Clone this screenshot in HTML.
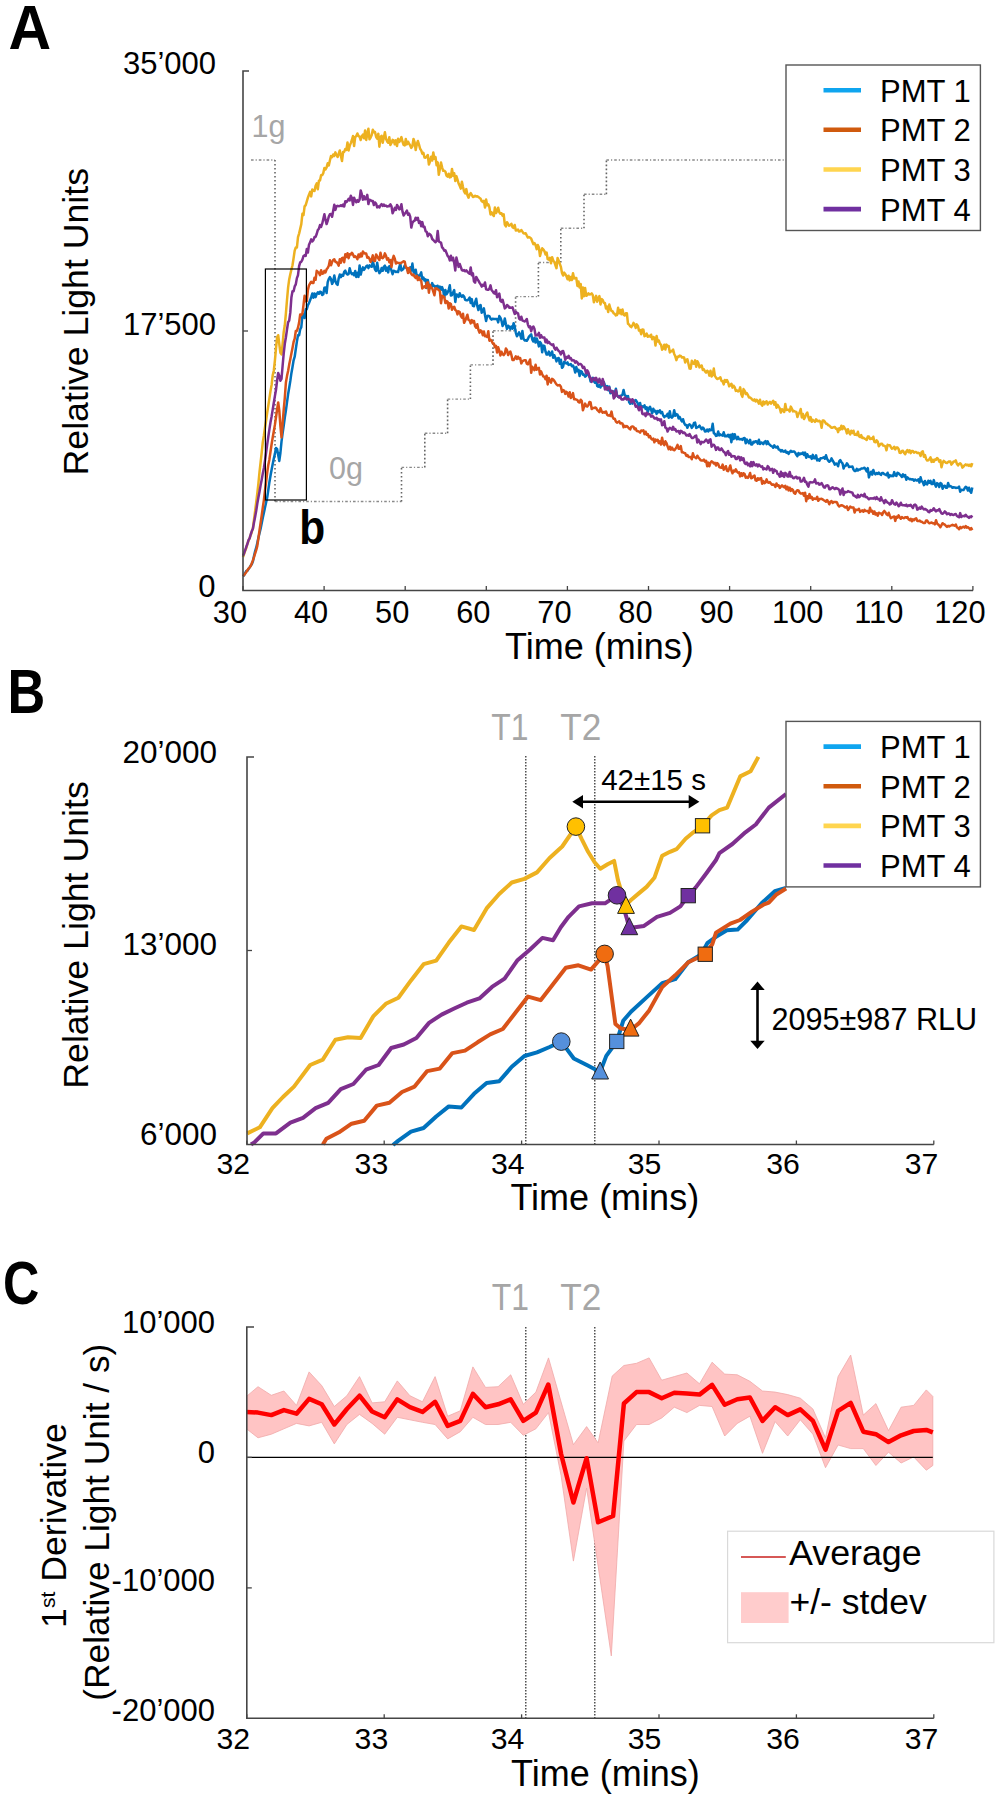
<!DOCTYPE html>
<html><head><meta charset="utf-8"><style>
html,body{margin:0;padding:0;background:#fff;}
svg{display:block;}
</style></head><body>
<svg width="1000" height="1800" viewBox="0 0 1000 1800">
<rect width="1000" height="1800" fill="#fff"/>
<line x1="251.0" y1="160.0" x2="275.0" y2="160.0" stroke="#8a8a8a" stroke-width="1.4" stroke-dasharray="2.6,2,1.2,2"/>
<line x1="275.0" y1="160.0" x2="275.0" y2="501.5" stroke="#666" stroke-width="1.6" stroke-dasharray="1.6,2.4"/>
<line x1="275.0" y1="501.5" x2="401.5" y2="501.5" stroke="#8a8a8a" stroke-width="1.4" stroke-dasharray="2.6,2,1.2,2"/>
<line x1="401.5" y1="501.5" x2="401.5" y2="467.4" stroke="#666" stroke-width="1.6" stroke-dasharray="1.6,2.4"/>
<line x1="401.5" y1="467.4" x2="424.8" y2="467.4" stroke="#8a8a8a" stroke-width="1.4" stroke-dasharray="2.6,2,1.2,2"/>
<line x1="424.8" y1="467.4" x2="424.8" y2="433.2" stroke="#666" stroke-width="1.6" stroke-dasharray="1.6,2.4"/>
<line x1="424.8" y1="433.2" x2="447.6" y2="433.2" stroke="#8a8a8a" stroke-width="1.4" stroke-dasharray="2.6,2,1.2,2"/>
<line x1="447.6" y1="433.2" x2="447.6" y2="399.1" stroke="#666" stroke-width="1.6" stroke-dasharray="1.6,2.4"/>
<line x1="447.6" y1="399.1" x2="470.4" y2="399.1" stroke="#8a8a8a" stroke-width="1.4" stroke-dasharray="2.6,2,1.2,2"/>
<line x1="470.4" y1="399.1" x2="470.4" y2="364.9" stroke="#666" stroke-width="1.6" stroke-dasharray="1.6,2.4"/>
<line x1="470.4" y1="364.9" x2="493.0" y2="364.9" stroke="#8a8a8a" stroke-width="1.4" stroke-dasharray="2.6,2,1.2,2"/>
<line x1="493.0" y1="364.9" x2="493.0" y2="330.8" stroke="#666" stroke-width="1.6" stroke-dasharray="1.6,2.4"/>
<line x1="493.0" y1="330.8" x2="515.6" y2="330.8" stroke="#8a8a8a" stroke-width="1.4" stroke-dasharray="2.6,2,1.2,2"/>
<line x1="515.6" y1="330.8" x2="515.6" y2="296.6" stroke="#666" stroke-width="1.6" stroke-dasharray="1.6,2.4"/>
<line x1="515.6" y1="296.6" x2="538.4" y2="296.6" stroke="#8a8a8a" stroke-width="1.4" stroke-dasharray="2.6,2,1.2,2"/>
<line x1="538.4" y1="296.6" x2="538.4" y2="262.5" stroke="#666" stroke-width="1.6" stroke-dasharray="1.6,2.4"/>
<line x1="538.4" y1="262.5" x2="560.8" y2="262.5" stroke="#8a8a8a" stroke-width="1.4" stroke-dasharray="2.6,2,1.2,2"/>
<line x1="560.8" y1="262.5" x2="560.8" y2="228.3" stroke="#666" stroke-width="1.6" stroke-dasharray="1.6,2.4"/>
<line x1="560.8" y1="228.3" x2="584.0" y2="228.3" stroke="#8a8a8a" stroke-width="1.4" stroke-dasharray="2.6,2,1.2,2"/>
<line x1="584.0" y1="228.3" x2="584.0" y2="194.2" stroke="#666" stroke-width="1.6" stroke-dasharray="1.6,2.4"/>
<line x1="584.0" y1="194.2" x2="606.4" y2="194.2" stroke="#8a8a8a" stroke-width="1.4" stroke-dasharray="2.6,2,1.2,2"/>
<line x1="606.4" y1="194.2" x2="606.4" y2="160.0" stroke="#666" stroke-width="1.6" stroke-dasharray="1.6,2.4"/>
<line x1="606.4" y1="160.0" x2="786.0" y2="160.0" stroke="#8a8a8a" stroke-width="1.4" stroke-dasharray="2.6,2,1.2,2"/>
<polyline points="243.0,576.2 244.1,575.3 245.2,572.8 246.3,571.0 247.4,570.7 248.5,569.0 249.6,567.4 250.7,565.6 251.8,564.2 252.9,561.4 254.0,556.0 255.1,551.4 256.2,547.7 257.3,543.0 258.4,537.8 259.5,533.2 260.6,528.7 261.7,523.3 262.8,517.7 263.9,512.7 265.0,507.6 266.1,502.5 267.2,497.6 268.3,490.0 269.4,482.2 270.5,475.8 271.6,469.8 272.7,464.1 273.8,458.6 274.9,453.9 276.0,448.1 277.1,448.9 278.2,455.1 279.3,460.9 280.4,453.0 281.5,441.7 282.6,433.4 283.7,425.7 284.8,417.6 285.9,410.5 287.0,402.4 288.1,394.3 289.2,387.7 290.3,381.0 291.4,373.2 292.5,367.0 293.6,360.3 294.7,356.7 295.8,349.0 296.9,341.6 298.0,335.3 299.1,335.2 300.2,329.3 301.3,327.2 302.4,316.0 303.5,314.4 304.6,318.0 305.7,309.3 306.8,309.2 307.9,305.2 309.0,303.1 310.1,300.3 311.2,297.2 312.3,293.5 313.4,297.7 314.5,293.4 315.6,297.1 316.7,294.1 317.8,292.4 318.9,293.8 320.0,291.7 321.1,292.2 322.2,295.0 323.3,294.2 324.4,287.7 325.5,287.5 326.6,293.0 327.7,282.2 328.8,279.0 329.9,277.0 331.0,279.1 332.1,283.9 333.2,281.6 334.3,275.6 335.4,281.0 336.5,283.9 337.6,284.9 338.7,278.3 339.8,274.5 340.9,277.2 342.0,274.9 343.1,275.8 344.2,271.9 345.3,270.7 346.4,273.6 347.5,274.5 348.6,274.1 349.7,268.3 350.8,272.3 351.9,274.1 353.0,273.4 354.1,275.3 355.2,271.0 356.3,277.0 357.4,272.9 358.5,276.9 359.6,265.4 360.7,274.6 361.8,270.2 362.9,267.4 364.0,269.9 365.1,268.1 366.2,266.3 367.3,265.6 368.4,268.1 369.5,265.4 370.6,266.4 371.7,266.8 372.8,261.2 373.9,265.4 375.0,269.5 376.1,271.0 377.2,262.7 378.3,269.8 379.4,273.1 380.5,271.8 381.6,268.0 382.7,270.8 383.8,266.8 384.9,265.7 386.0,270.7 387.1,267.6 388.2,272.4 389.3,266.2 390.4,266.3 391.5,270.7 392.6,274.2 393.7,270.8 394.8,271.1 395.9,272.0 397.0,271.6 398.1,272.1 399.2,267.3 400.3,263.8 401.4,270.5 402.5,269.8 403.6,268.4 404.7,265.5 405.8,267.2 406.9,268.6 408.0,271.1 409.1,269.1 410.2,267.4 411.3,270.6 412.4,263.6 413.5,271.9 414.6,273.3 415.7,269.7 416.8,276.2 417.9,275.4 419.0,276.7 420.1,274.8 421.2,272.4 422.3,279.1 423.4,277.5 424.5,280.5 425.6,279.4 426.7,287.9 427.8,279.9 428.9,285.5 430.0,285.9 431.1,286.8 432.2,283.1 433.3,286.0 434.4,285.8 435.5,287.5 436.6,286.1 437.7,285.8 438.8,289.0 439.9,286.6 441.0,289.7 442.1,287.1 443.2,290.3 444.3,297.4 445.4,290.0 446.5,294.2 447.6,292.5 448.7,289.9 449.8,285.3 450.9,295.6 452.0,295.1 453.1,292.5 454.2,290.1 455.3,302.0 456.4,294.4 457.5,294.9 458.6,297.0 459.7,293.3 460.8,295.8 461.9,296.9 463.0,295.3 464.1,296.5 465.2,299.9 466.3,300.2 467.4,300.3 468.5,299.3 469.6,297.6 470.7,303.1 471.8,299.1 472.9,305.9 474.0,306.2 475.1,302.2 476.2,298.8 477.3,305.9 478.4,310.1 479.5,306.0 480.6,305.0 481.7,312.7 482.8,311.5 483.9,308.4 485.0,315.3 486.1,321.0 487.2,316.0 488.3,315.8 489.4,316.2 490.5,318.6 491.6,319.7 492.7,318.7 493.8,319.1 494.9,319.1 496.0,319.1 497.1,319.1 498.2,322.4 499.3,316.1 500.4,317.8 501.5,320.7 502.6,326.0 503.7,324.0 504.8,318.4 505.9,324.2 507.0,328.9 508.1,325.7 509.2,326.7 510.3,328.9 511.4,326.5 512.5,328.7 513.6,323.2 514.7,326.8 515.8,332.6 516.9,336.2 518.0,334.5 519.1,332.4 520.2,335.0 521.3,338.6 522.4,331.0 523.5,338.8 524.6,340.4 525.7,340.3 526.8,340.8 527.9,339.0 529.0,336.6 530.1,335.5 531.2,334.3 532.3,339.6 533.4,341.5 534.5,337.8 535.6,342.6 536.7,338.4 537.8,341.5 538.9,346.4 540.0,342.0 541.1,343.4 542.2,352.3 543.3,345.6 544.4,345.9 545.5,351.5 546.6,354.6 547.7,354.4 548.8,351.6 549.9,355.5 551.0,354.4 552.1,351.5 553.2,357.7 554.3,355.2 555.4,357.9 556.5,361.4 557.6,358.4 558.7,358.0 559.8,363.8 560.9,359.7 562.0,367.8 563.1,366.6 564.2,361.7 565.3,362.7 566.4,363.5 567.5,362.4 568.6,364.9 569.7,364.6 570.8,364.1 571.9,366.3 573.0,365.5 574.1,368.0 575.2,372.5 576.3,367.0 577.4,371.1 578.5,369.8 579.6,376.1 580.7,371.0 581.8,371.8 582.9,374.8 584.0,374.6 585.1,376.6 586.2,376.0 587.3,373.3 588.4,373.8 589.5,376.4 590.6,381.6 591.7,379.5 592.8,377.9 593.9,381.2 595.0,382.7 596.1,379.4 597.2,386.0 598.3,386.7 599.4,384.9 600.5,387.5 601.6,382.9 602.7,385.5 603.8,382.3 604.9,385.3 606.0,387.7 607.1,386.0 608.2,390.3 609.3,386.6 610.4,393.2 611.5,390.9 612.6,393.3 613.7,391.6 614.8,393.8 615.9,388.7 617.0,395.3 618.1,396.8 619.2,396.6 620.3,395.8 621.4,395.6 622.5,394.6 623.6,389.9 624.7,395.0 625.8,395.7 626.9,397.4 628.0,396.0 629.1,402.0 630.2,403.7 631.3,400.9 632.4,403.6 633.5,400.8 634.6,400.9 635.7,400.0 636.8,401.7 637.9,403.6 639.0,406.4 640.1,403.0 641.2,407.9 642.3,406.2 643.4,407.2 644.5,405.4 645.6,408.9 646.7,407.2 647.8,412.2 648.9,408.3 650.0,406.8 651.1,409.6 652.2,413.3 653.3,408.7 654.4,411.4 655.5,410.8 656.6,413.9 657.7,411.0 658.8,412.3 659.9,410.3 661.0,413.1 662.1,412.0 663.2,415.5 664.3,417.1 665.4,416.1 666.5,415.9 667.6,413.7 668.7,417.8 669.8,411.2 670.9,416.9 672.0,417.6 673.1,416.2 674.2,410.2 675.3,415.8 676.4,414.1 677.5,414.6 678.6,418.4 679.7,416.9 680.8,419.4 681.9,421.5 683.0,419.2 684.1,422.9 685.2,425.0 686.3,424.9 687.4,427.8 688.5,425.0 689.6,424.3 690.7,425.3 691.8,427.9 692.9,426.2 694.0,422.9 695.1,422.6 696.2,428.0 697.3,427.4 698.4,426.7 699.5,425.7 700.6,427.5 701.7,429.2 702.8,427.5 703.9,428.7 705.0,431.6 706.1,431.3 707.2,429.5 708.3,431.4 709.4,429.4 710.5,430.2 711.6,430.0 712.7,423.8 713.8,433.2 714.9,433.9 716.0,435.9 717.1,435.5 718.2,431.5 719.3,435.4 720.4,434.4 721.5,435.2 722.6,435.6 723.7,432.3 724.8,436.2 725.9,436.1 727.0,436.3 728.1,434.7 729.2,437.1 730.3,434.8 731.4,442.2 732.5,434.1 733.6,439.1 734.7,434.2 735.8,437.6 736.9,439.2 738.0,436.9 739.1,439.3 740.2,439.3 741.3,438.9 742.4,439.9 743.5,438.2 744.6,438.1 745.7,443.3 746.8,439.5 747.9,441.6 749.0,443.2 750.1,439.9 751.2,444.5 752.3,444.4 753.4,441.7 754.5,442.4 755.6,441.2 756.7,441.5 757.8,443.7 758.9,439.8 760.0,444.0 761.1,442.5 762.2,443.0 763.3,444.1 764.4,442.0 765.5,441.1 766.6,444.1 767.7,441.4 768.8,444.0 769.9,444.8 771.0,445.9 772.1,446.3 773.2,447.8 774.3,445.3 775.4,447.2 776.5,447.5 777.6,446.5 778.7,449.6 779.8,449.7 780.9,451.4 782.0,450.1 783.1,451.6 784.2,451.8 785.3,450.5 786.4,452.7 787.5,452.0 788.6,453.9 789.7,452.1 790.8,450.8 791.9,451.9 793.0,451.5 794.1,451.5 795.2,452.6 796.3,454.8 797.4,456.2 798.5,453.0 799.6,454.5 800.7,453.5 801.8,453.9 802.9,452.5 804.0,455.0 805.1,452.6 806.2,457.8 807.3,454.2 808.4,456.5 809.5,457.0 810.6,456.2 811.7,458.9 812.8,454.9 813.9,458.2 815.0,458.2 816.1,455.3 817.2,460.4 818.3,459.3 819.4,460.7 820.5,458.3 821.6,458.2 822.7,457.9 823.8,457.2 824.9,458.8 826.0,455.3 827.1,458.8 828.2,460.7 829.3,461.8 830.4,460.9 831.5,458.4 832.6,460.5 833.7,462.2 834.8,464.7 835.9,463.5 837.0,464.0 838.1,466.3 839.2,461.3 840.3,460.1 841.4,462.2 842.5,463.3 843.6,468.6 844.7,465.8 845.8,465.7 846.9,463.3 848.0,465.0 849.1,467.1 850.2,466.8 851.3,466.7 852.4,466.5 853.5,469.5 854.6,470.9 855.7,471.0 856.8,468.9 857.9,470.5 859.0,469.5 860.1,469.5 861.2,468.6 862.3,468.4 863.4,468.3 864.5,467.7 865.6,469.3 866.7,471.4 867.8,468.1 868.9,477.4 870.0,473.8 871.1,471.7 872.2,474.6 873.3,470.0 874.4,473.2 875.5,474.4 876.6,473.0 877.7,473.9 878.8,472.6 879.9,474.0 881.0,474.9 882.1,472.9 883.2,473.0 884.3,474.3 885.4,474.4 886.5,475.2 887.6,472.7 888.7,477.6 889.8,475.1 890.9,476.2 892.0,475.6 893.1,476.2 894.2,472.1 895.3,475.4 896.4,475.9 897.5,472.7 898.6,473.4 899.7,474.6 900.8,475.4 901.9,476.9 903.0,474.3 904.1,476.5 905.2,475.1 906.3,479.8 907.4,477.3 908.5,478.4 909.6,479.3 910.7,479.1 911.8,479.6 912.9,479.3 914.0,480.8 915.1,479.5 916.2,480.4 917.3,480.6 918.4,479.2 919.5,482.5 920.6,477.2 921.7,481.3 922.8,482.1 923.9,485.1 925.0,480.9 926.1,484.1 927.2,484.4 928.3,480.8 929.4,482.8 930.5,480.9 931.6,484.1 932.7,484.0 933.8,480.1 934.9,484.3 936.0,486.6 937.1,483.1 938.2,484.0 939.3,487.0 940.4,483.0 941.5,483.8 942.6,488.7 943.7,485.9 944.8,485.7 945.9,487.7 947.0,487.8 948.1,482.9 949.2,486.4 950.3,486.0 951.4,486.6 952.5,487.8 953.6,487.2 954.7,487.4 955.8,487.9 956.9,487.7 958.0,487.8 959.1,486.7 960.2,491.7 961.3,489.7 962.4,489.9 963.5,490.1 964.6,488.3 965.7,486.8 966.8,487.6 967.9,490.5 969.0,487.7 970.1,491.0 971.2,492.7 972.3,487.4" fill="none" stroke="#0072bd" stroke-width="2.5" stroke-linejoin="round"/>
<polyline points="243.0,576.2 244.1,574.8 245.2,573.6 246.3,572.0 247.4,570.3 248.5,568.7 249.6,567.6 250.7,566.1 251.8,563.2 252.9,560.4 254.0,557.2 255.1,553.5 256.2,550.1 257.3,545.9 258.4,538.2 259.5,530.4 260.6,523.0 261.7,515.4 262.8,507.5 263.9,500.1 265.0,490.3 266.1,482.2 267.2,472.6 268.3,464.9 269.4,459.4 270.5,451.7 271.6,444.2 272.7,437.5 273.8,431.1 274.9,424.9 276.0,417.2 277.1,409.5 278.2,402.4 279.3,410.6 280.4,425.9 281.5,437.5 282.6,424.0 283.7,409.9 284.8,397.8 285.9,382.5 287.0,376.1 288.1,371.0 289.2,364.6 290.3,359.2 291.4,353.5 292.5,347.9 293.6,341.9 294.7,338.6 295.8,331.0 296.9,330.9 298.0,327.7 299.1,322.6 300.2,314.4 301.3,315.1 302.4,313.7 303.5,305.2 304.6,295.7 305.7,301.3 306.8,301.1 307.9,289.9 309.0,285.3 310.1,283.5 311.2,281.7 312.3,283.1 313.4,283.1 314.5,277.8 315.6,279.8 316.7,270.8 317.8,271.9 318.9,272.8 320.0,275.2 321.1,270.2 322.2,273.7 323.3,273.4 324.4,270.8 325.5,272.4 326.6,269.3 327.7,268.0 328.8,265.7 329.9,260.3 331.0,265.3 332.1,262.0 333.2,260.0 334.3,259.2 335.4,261.9 336.5,262.1 337.6,263.5 338.7,265.6 339.8,259.3 340.9,262.7 342.0,258.1 343.1,257.7 344.2,262.2 345.3,254.3 346.4,257.0 347.5,253.3 348.6,258.2 349.7,254.3 350.8,254.5 351.9,252.7 353.0,254.5 354.1,257.0 355.2,256.2 356.3,257.1 357.4,259.3 358.5,254.5 359.6,257.1 360.7,253.5 361.8,256.4 362.9,251.5 364.0,253.0 365.1,253.5 366.2,253.5 367.3,257.7 368.4,257.1 369.5,258.9 370.6,261.9 371.7,259.3 372.8,255.4 373.9,261.1 375.0,261.1 376.1,254.5 377.2,256.4 378.3,258.3 379.4,260.0 380.5,252.7 381.6,257.6 382.7,258.2 383.8,257.0 384.9,253.4 386.0,255.8 387.1,259.6 388.2,258.2 389.3,262.3 390.4,260.1 391.5,267.0 392.6,259.3 393.7,255.9 394.8,258.7 395.9,263.6 397.0,262.5 398.1,262.9 399.2,262.9 400.3,263.3 401.4,262.7 402.5,262.0 403.6,261.3 404.7,261.6 405.8,266.9 406.9,268.0 408.0,273.0 409.1,267.9 410.2,272.1 411.3,273.9 412.4,275.2 413.5,274.5 414.6,276.7 415.7,278.0 416.8,275.8 417.9,280.1 419.0,277.5 420.1,280.1 421.2,280.7 422.3,288.5 423.4,287.0 424.5,286.3 425.6,287.7 426.7,283.1 427.8,282.3 428.9,292.7 430.0,285.0 431.1,288.0 432.2,288.3 433.3,291.6 434.4,295.2 435.5,288.2 436.6,288.4 437.7,289.3 438.8,290.1 439.9,291.2 441.0,303.2 442.1,295.7 443.2,296.4 444.3,297.3 445.4,303.1 446.5,301.0 447.6,301.8 448.7,308.5 449.8,303.3 450.9,304.0 452.0,309.8 453.1,307.4 454.2,306.7 455.3,310.0 456.4,310.7 457.5,314.4 458.6,311.4 459.7,312.0 460.8,315.9 461.9,317.7 463.0,313.7 464.1,322.8 465.2,320.7 466.3,317.7 467.4,314.7 468.5,319.9 469.6,320.3 470.7,323.4 471.8,320.1 472.9,322.4 474.0,320.9 475.1,326.3 476.2,327.7 477.3,324.2 478.4,329.7 479.5,332.6 480.6,330.4 481.7,331.3 482.8,335.2 483.9,331.5 485.0,336.3 486.1,336.1 487.2,337.0 488.3,331.2 489.4,340.7 490.5,339.8 491.6,340.7 492.7,343.4 493.8,343.4 494.9,347.1 496.0,345.9 497.1,352.5 498.2,347.3 499.3,350.6 500.4,355.5 501.5,351.8 502.6,354.3 503.7,355.1 504.8,353.5 505.9,348.4 507.0,350.1 508.1,355.1 509.2,353.0 510.3,351.5 511.4,354.9 512.5,359.9 513.6,360.1 514.7,358.3 515.8,356.4 516.9,359.0 518.0,356.7 519.1,358.6 520.2,358.0 521.3,363.4 522.4,361.3 523.5,360.6 524.6,360.2 525.7,360.2 526.8,363.7 527.9,364.3 529.0,361.9 530.1,359.5 531.2,372.8 532.3,366.8 533.4,368.8 534.5,370.1 535.6,364.7 536.7,369.7 537.8,368.3 538.9,367.9 540.0,374.6 541.1,371.4 542.2,374.2 543.3,376.5 544.4,376.7 545.5,379.3 546.6,375.7 547.7,384.4 548.8,377.9 549.9,380.9 551.0,382.7 552.1,378.9 553.2,379.6 554.3,380.9 555.4,382.7 556.5,384.4 557.6,385.4 558.7,385.2 559.8,385.1 560.9,386.7 562.0,391.9 563.1,390.1 564.2,390.6 565.3,393.9 566.4,391.8 567.5,393.1 568.6,396.5 569.7,392.3 570.8,397.9 571.9,396.4 573.0,393.1 574.1,399.2 575.2,399.0 576.3,399.6 577.4,400.0 578.5,402.1 579.6,402.5 580.7,399.7 581.8,401.1 582.9,410.3 584.0,406.8 585.1,403.6 586.2,406.2 587.3,406.6 588.4,405.1 589.5,402.0 590.6,402.4 591.7,409.1 592.8,408.0 593.9,408.1 595.0,407.5 596.1,408.0 597.2,409.8 598.3,411.0 599.4,412.2 600.5,408.3 601.6,411.1 602.7,412.7 603.8,411.9 604.9,412.6 606.0,411.5 607.1,414.7 608.2,415.6 609.3,415.1 610.4,416.0 611.5,411.6 612.6,416.9 613.7,418.8 614.8,418.8 615.9,421.6 617.0,422.7 618.1,422.0 619.2,421.3 620.3,423.5 621.4,423.1 622.5,423.6 623.6,427.3 624.7,425.8 625.8,426.9 626.9,426.0 628.0,427.2 629.1,428.5 630.2,429.4 631.3,426.8 632.4,426.4 633.5,426.9 634.6,429.2 635.7,428.4 636.8,431.1 637.9,431.2 639.0,431.6 640.1,432.6 641.2,430.5 642.3,430.8 643.4,430.3 644.5,434.1 645.6,431.7 646.7,434.8 647.8,434.0 648.9,437.2 650.0,436.0 651.1,438.6 652.2,439.5 653.3,438.6 654.4,442.3 655.5,439.5 656.6,440.7 657.7,439.8 658.8,443.0 659.9,441.4 661.0,444.5 662.1,437.7 663.2,443.3 664.3,445.1 665.4,441.3 666.5,443.1 667.6,446.4 668.7,449.2 669.8,446.7 670.9,449.6 672.0,447.6 673.1,449.6 674.2,450.3 675.3,449.1 676.4,447.3 677.5,444.9 678.6,448.7 679.7,448.7 680.8,446.1 681.9,452.2 683.0,452.3 684.1,452.9 685.2,453.2 686.3,455.9 687.4,455.0 688.5,456.9 689.6,457.0 690.7,456.9 691.8,459.3 692.9,453.3 694.0,456.9 695.1,457.3 696.2,458.2 697.3,455.7 698.4,457.5 699.5,458.8 700.6,460.3 701.7,460.5 702.8,460.6 703.9,459.6 705.0,461.6 706.1,460.7 707.2,466.3 708.3,462.6 709.4,466.2 710.5,462.7 711.6,461.3 712.7,462.0 713.8,463.4 714.9,462.9 716.0,465.5 717.1,463.1 718.2,463.9 719.3,467.1 720.4,467.5 721.5,467.8 722.6,464.6 723.7,469.7 724.8,468.3 725.9,466.2 727.0,470.6 728.1,471.2 729.2,468.5 730.3,465.5 731.4,470.5 732.5,473.3 733.6,470.6 734.7,471.5 735.8,469.3 736.9,471.4 738.0,472.8 739.1,472.4 740.2,476.4 741.3,473.3 742.4,475.9 743.5,473.2 744.6,474.0 745.7,477.7 746.8,476.9 747.9,477.9 749.0,475.9 750.1,473.0 751.2,478.2 752.3,477.9 753.4,476.1 754.5,475.5 755.6,480.4 756.7,480.7 757.8,478.2 758.9,479.8 760.0,478.5 761.1,478.1 762.2,483.7 763.3,481.1 764.4,483.2 765.5,482.4 766.6,479.4 767.7,482.4 768.8,482.7 769.9,482.1 771.0,483.7 772.1,484.8 773.2,484.5 774.3,484.9 775.4,486.9 776.5,483.5 777.6,485.8 778.7,485.4 779.8,487.9 780.9,486.5 782.0,485.4 783.1,486.5 784.2,487.4 785.3,485.8 786.4,489.3 787.5,486.9 788.6,490.4 789.7,487.7 790.8,490.9 791.9,489.0 793.0,490.2 794.1,493.0 795.2,493.8 796.3,491.4 797.4,490.2 798.5,490.4 799.6,492.6 800.7,493.5 801.8,493.6 802.9,493.0 804.0,495.7 805.1,492.7 806.2,501.2 807.3,496.3 808.4,498.5 809.5,494.1 810.6,498.0 811.7,496.8 812.8,499.8 813.9,498.5 815.0,498.8 816.1,498.9 817.2,496.8 818.3,500.8 819.4,499.0 820.5,499.1 821.6,498.8 822.7,499.4 823.8,500.2 824.9,500.9 826.0,501.8 827.1,500.0 828.2,501.8 829.3,504.3 830.4,501.7 831.5,501.0 832.6,503.0 833.7,501.9 834.8,502.0 835.9,502.0 837.0,502.5 838.1,505.2 839.2,506.5 840.3,505.6 841.4,505.2 842.5,505.5 843.6,506.1 844.7,507.2 845.8,507.4 846.9,506.3 848.0,510.0 849.1,508.5 850.2,506.5 851.3,507.4 852.4,507.6 853.5,507.5 854.6,512.5 855.7,509.6 856.8,510.0 857.9,509.7 859.0,508.8 860.1,511.9 861.2,511.0 862.3,510.4 863.4,511.8 864.5,509.8 865.6,511.0 866.7,510.9 867.8,510.9 868.9,512.9 870.0,507.8 871.1,511.5 872.2,510.7 873.3,513.8 874.4,511.5 875.5,514.5 876.6,513.2 877.7,515.7 878.8,512.7 879.9,513.1 881.0,513.4 882.1,515.0 883.2,512.3 884.3,510.9 885.4,512.3 886.5,514.2 887.6,515.1 888.7,512.7 889.8,515.7 890.9,518.2 892.0,517.5 893.1,516.9 894.2,516.5 895.3,520.9 896.4,516.7 897.5,517.7 898.6,515.4 899.7,517.3 900.8,518.8 901.9,517.1 903.0,517.9 904.1,518.2 905.2,517.2 906.3,517.7 907.4,517.0 908.5,519.2 909.6,520.1 910.7,518.8 911.8,521.3 912.9,519.3 914.0,520.2 915.1,518.9 916.2,518.3 917.3,521.1 918.4,521.1 919.5,520.5 920.6,521.5 921.7,521.8 922.8,522.6 923.9,523.0 925.0,523.0 926.1,520.6 927.2,520.6 928.3,522.3 929.4,523.3 930.5,522.9 931.6,522.5 932.7,523.3 933.8,523.2 934.9,524.4 936.0,520.2 937.1,523.6 938.2,524.4 939.3,525.6 940.4,527.2 941.5,525.2 942.6,523.2 943.7,524.1 944.8,524.7 945.9,525.8 947.0,526.9 948.1,525.8 949.2,526.5 950.3,525.7 951.4,525.3 952.5,524.8 953.6,525.4 954.7,525.7 955.8,524.5 956.9,527.4 958.0,527.9 959.1,529.3 960.2,527.0 961.3,528.2 962.4,527.1 963.5,526.7 964.6,527.7 965.7,526.1 966.8,527.6 967.9,527.1 969.0,528.1 970.1,529.5 971.2,528.1 972.3,530.1" fill="none" stroke="#d95319" stroke-width="2.5" stroke-linejoin="round"/>
<polyline points="243.0,557.1 244.1,553.9 245.2,550.5 246.3,547.9 247.4,543.8 248.5,540.9 249.6,538.2 250.7,535.0 251.8,532.0 252.9,528.3 254.0,519.6 255.1,511.1 256.2,502.5 257.3,493.5 258.4,483.6 259.5,472.2 260.6,462.3 261.7,452.6 262.8,442.1 263.9,435.5 265.0,427.5 266.1,420.5 267.2,412.6 268.3,405.8 269.4,398.4 270.5,391.1 271.6,385.0 272.7,375.3 273.8,370.7 274.9,360.6 276.0,348.4 277.1,337.3 278.2,335.2 279.3,344.1 280.4,352.8 281.5,354.4 282.6,344.1 283.7,332.2 284.8,325.3 285.9,313.3 287.0,300.0 288.1,287.6 289.2,279.4 290.3,274.3 291.4,269.5 292.5,265.3 293.6,258.1 294.7,250.6 295.8,247.5 296.9,247.6 298.0,237.2 299.1,233.6 300.2,228.9 301.3,224.1 302.4,213.8 303.5,215.1 304.6,206.4 305.7,205.1 306.8,201.4 307.9,197.7 309.0,194.6 310.1,191.9 311.2,196.4 312.3,189.5 313.4,190.8 314.5,190.9 315.6,185.8 316.7,183.4 317.8,189.3 318.9,180.8 320.0,180.5 321.1,175.3 322.2,175.1 323.3,173.1 324.4,167.9 325.5,169.4 326.6,167.3 327.7,163.3 328.8,165.4 329.9,160.5 331.0,156.1 332.1,157.1 333.2,154.5 334.3,156.0 335.4,152.4 336.5,154.8 337.6,157.0 338.7,153.9 339.8,150.5 340.9,156.1 342.0,161.0 343.1,152.0 344.2,151.9 345.3,149.0 346.4,149.9 347.5,142.4 348.6,150.4 349.7,145.9 350.8,143.1 351.9,140.0 353.0,136.0 354.1,146.0 355.2,137.2 356.3,136.1 357.4,133.5 358.5,136.1 359.6,136.7 360.7,140.0 361.8,136.2 362.9,134.6 364.0,138.2 365.1,130.5 366.2,139.9 367.3,133.9 368.4,128.7 369.5,139.3 370.6,137.6 371.7,135.1 372.8,129.8 373.9,132.3 375.0,132.0 376.1,136.8 377.2,138.7 378.3,133.7 379.4,146.7 380.5,137.0 381.6,135.7 382.7,142.8 383.8,137.9 384.9,132.3 386.0,138.7 387.1,141.4 388.2,142.8 389.3,137.3 390.4,145.0 391.5,143.0 392.6,139.9 393.7,140.3 394.8,144.3 395.9,140.4 397.0,146.1 398.1,138.7 399.2,142.0 400.3,140.3 401.4,137.1 402.5,141.5 403.6,144.9 404.7,145.4 405.8,139.0 406.9,144.4 408.0,141.7 409.1,143.8 410.2,145.4 411.3,147.9 412.4,146.2 413.5,139.0 414.6,142.2 415.7,150.0 416.8,144.4 417.9,141.0 419.0,144.5 420.1,148.7 421.2,150.4 422.3,153.6 423.4,152.9 424.5,157.5 425.6,157.7 426.7,156.6 427.8,155.1 428.9,164.5 430.0,161.5 431.1,156.8 432.2,160.5 433.3,152.4 434.4,158.7 435.5,157.0 436.6,165.3 437.7,162.3 438.8,174.8 439.9,169.1 441.0,162.4 442.1,167.3 443.2,170.8 444.3,170.7 445.4,171.6 446.5,175.6 447.6,176.6 448.7,173.7 449.8,177.4 450.9,177.0 452.0,168.9 453.1,175.7 454.2,173.2 455.3,181.1 456.4,176.1 457.5,179.7 458.6,183.5 459.7,185.8 460.8,188.6 461.9,181.8 463.0,187.1 464.1,191.4 465.2,193.4 466.3,189.1 467.4,195.1 468.5,197.7 469.6,194.7 470.7,193.1 471.8,194.9 472.9,196.9 474.0,196.7 475.1,195.7 476.2,196.5 477.3,196.2 478.4,197.0 479.5,197.9 480.6,198.8 481.7,201.1 482.8,202.0 483.9,200.8 485.0,207.5 486.1,199.6 487.2,205.3 488.3,204.3 489.4,207.2 490.5,214.4 491.6,212.3 492.7,214.7 493.8,216.0 494.9,207.5 496.0,213.1 497.1,210.9 498.2,207.7 499.3,212.3 500.4,213.8 501.5,213.2 502.6,215.8 503.7,214.3 504.8,224.5 505.9,226.4 507.0,222.2 508.1,224.0 509.2,225.7 510.3,225.2 511.4,223.8 512.5,227.2 513.6,227.9 514.7,225.0 515.8,230.6 516.9,230.3 518.0,229.6 519.1,231.5 520.2,231.2 521.3,230.0 522.4,231.6 523.5,233.2 524.6,233.5 525.7,233.2 526.8,235.6 527.9,237.5 529.0,237.1 530.1,237.6 531.2,238.7 532.3,241.5 533.4,244.2 534.5,243.2 535.6,245.2 536.7,249.3 537.8,244.9 538.9,247.5 540.0,256.0 541.1,251.7 542.2,248.3 543.3,249.3 544.4,251.2 545.5,254.4 546.6,252.5 547.7,259.2 548.8,259.7 549.9,257.8 551.0,263.2 552.1,257.2 553.2,260.5 554.3,261.8 555.4,265.2 556.5,268.2 557.6,257.9 558.7,260.7 559.8,263.8 560.9,266.9 562.0,273.0 563.1,275.5 564.2,272.6 565.3,274.3 566.4,276.0 567.5,279.2 568.6,275.7 569.7,280.4 570.8,277.0 571.9,280.0 573.0,273.2 574.1,278.5 575.2,277.9 576.3,278.0 577.4,285.9 578.5,281.4 579.6,287.5 580.7,284.0 581.8,298.4 582.9,287.4 584.0,296.2 585.1,288.0 586.2,295.8 587.3,295.2 588.4,293.3 589.5,294.4 590.6,294.2 591.7,293.4 592.8,295.1 593.9,302.3 595.0,298.5 596.1,295.9 597.2,301.7 598.3,298.0 599.4,296.0 600.5,304.4 601.6,299.1 602.7,299.9 603.8,302.9 604.9,302.9 606.0,308.6 607.1,306.5 608.2,312.0 609.3,304.6 610.4,308.6 611.5,311.1 612.6,311.3 613.7,313.4 614.8,313.9 615.9,315.4 617.0,315.1 618.1,307.8 619.2,313.3 620.3,310.0 621.4,314.3 622.5,309.4 623.6,314.7 624.7,315.5 625.8,313.3 626.9,313.3 628.0,323.8 629.1,324.6 630.2,326.2 631.3,327.1 632.4,325.6 633.5,322.9 634.6,324.4 635.7,328.0 636.8,324.4 637.9,325.9 639.0,330.6 640.1,330.1 641.2,334.2 642.3,329.5 643.4,329.8 644.5,336.2 645.6,335.7 646.7,333.6 647.8,336.8 648.9,335.8 650.0,336.6 651.1,334.7 652.2,339.3 653.3,337.0 654.4,337.6 655.5,345.6 656.6,336.1 657.7,341.6 658.8,340.5 659.9,343.7 661.0,344.6 662.1,349.7 663.2,348.7 664.3,344.7 665.4,349.6 666.5,344.6 667.6,346.4 668.7,346.0 669.8,352.4 670.9,351.1 672.0,351.2 673.1,349.6 674.2,353.9 675.3,356.3 676.4,360.1 677.5,356.7 678.6,356.9 679.7,355.6 680.8,355.9 681.9,357.5 683.0,357.3 684.1,357.4 685.2,362.6 686.3,359.9 687.4,359.2 688.5,364.1 689.6,368.6 690.7,368.7 691.8,360.8 692.9,363.6 694.0,363.8 695.1,360.4 696.2,366.7 697.3,361.2 698.4,363.2 699.5,367.4 700.6,365.9 701.7,365.5 702.8,369.9 703.9,369.2 705.0,371.5 706.1,372.7 707.2,370.7 708.3,371.6 709.4,375.6 710.5,370.8 711.6,376.4 712.7,374.9 713.8,368.6 714.9,375.9 716.0,377.7 717.1,379.0 718.2,378.5 719.3,378.2 720.4,377.3 721.5,381.0 722.6,381.3 723.7,384.4 724.8,379.9 725.9,381.8 727.0,380.0 728.1,382.4 729.2,386.3 730.3,385.4 731.4,383.7 732.5,387.6 733.6,385.7 734.7,387.2 735.8,390.9 736.9,390.3 738.0,391.5 739.1,390.8 740.2,387.4 741.3,394.2 742.4,396.9 743.5,389.1 744.6,390.7 745.7,394.0 746.8,393.0 747.9,395.1 749.0,397.6 750.1,397.5 751.2,398.4 752.3,399.7 753.4,400.5 754.5,399.4 755.6,401.5 756.7,399.7 757.8,401.2 758.9,403.7 760.0,399.8 761.1,404.0 762.2,405.6 763.3,401.4 764.4,404.3 765.5,402.0 766.6,401.4 767.7,404.5 768.8,402.8 769.9,401.9 771.0,403.6 772.1,402.2 773.2,400.7 774.3,404.6 775.4,402.2 776.5,407.7 777.6,404.8 778.7,406.7 779.8,408.4 780.9,412.6 782.0,409.3 783.1,410.1 784.2,412.0 785.3,404.0 786.4,409.9 787.5,409.8 788.6,409.7 789.7,411.5 790.8,406.6 791.9,408.8 793.0,411.4 794.1,411.0 795.2,411.6 796.3,411.9 797.4,417.0 798.5,413.8 799.6,412.6 800.7,409.0 801.8,417.4 802.9,414.0 804.0,419.0 805.1,417.1 806.2,414.1 807.3,412.5 808.4,417.2 809.5,420.4 810.6,417.1 811.7,421.8 812.8,419.9 813.9,420.7 815.0,421.9 816.1,419.3 817.2,420.8 818.3,421.3 819.4,420.7 820.5,422.0 821.6,427.7 822.7,420.4 823.8,420.4 824.9,421.8 826.0,423.7 827.1,423.7 828.2,425.3 829.3,425.4 830.4,426.8 831.5,427.7 832.6,427.7 833.7,427.2 834.8,426.9 835.9,428.7 837.0,428.8 838.1,432.1 839.2,428.3 840.3,429.5 841.4,425.7 842.5,429.1 843.6,426.3 844.7,428.2 845.8,429.7 846.9,433.4 848.0,429.3 849.1,432.4 850.2,434.5 851.3,430.7 852.4,433.0 853.5,430.7 854.6,434.8 855.7,434.6 856.8,435.0 857.9,431.8 859.0,436.3 860.1,437.1 861.2,435.1 862.3,438.0 863.4,437.7 864.5,438.6 865.6,439.0 866.7,440.0 867.8,436.6 868.9,436.4 870.0,439.0 871.1,438.5 872.2,438.9 873.3,436.7 874.4,441.9 875.5,442.3 876.6,440.3 877.7,441.5 878.8,446.2 879.9,444.7 881.0,443.8 882.1,443.8 883.2,445.6 884.3,445.8 885.4,446.3 886.5,450.3 887.6,444.8 888.7,445.3 889.8,445.2 890.9,447.2 892.0,448.7 893.1,448.3 894.2,446.8 895.3,449.4 896.4,447.4 897.5,447.6 898.6,449.1 899.7,452.8 900.8,452.9 901.9,451.0 903.0,450.7 904.1,452.9 905.2,454.2 906.3,451.5 907.4,450.1 908.5,452.1 909.6,450.3 910.7,453.1 911.8,451.1 912.9,451.0 914.0,452.6 915.1,452.0 916.2,452.1 917.3,453.0 918.4,452.8 919.5,453.3 920.6,456.0 921.7,452.0 922.8,451.2 923.9,456.8 925.0,455.0 926.1,458.9 927.2,460.4 928.3,460.3 929.4,459.2 930.5,457.4 931.6,461.9 932.7,459.7 933.8,461.8 934.9,459.6 936.0,459.8 937.1,458.0 938.2,459.1 939.3,461.8 940.4,460.2 941.5,467.3 942.6,463.0 943.7,460.8 944.8,461.8 945.9,462.7 947.0,462.9 948.1,462.1 949.2,461.4 950.3,461.5 951.4,464.6 952.5,463.2 953.6,461.5 954.7,461.5 955.8,460.3 956.9,463.8 958.0,465.4 959.1,464.0 960.2,463.2 961.3,464.6 962.4,467.6 963.5,466.6 964.6,465.3 965.7,464.4 966.8,465.3 967.9,464.7 969.0,465.9 970.1,464.7 971.2,466.3 972.3,463.1" fill="none" stroke="#edb120" stroke-width="2.5" stroke-linejoin="round"/>
<polyline points="243.0,555.8 244.1,553.2 245.2,550.1 246.3,546.8 247.4,544.0 248.5,540.2 249.6,538.3 250.7,534.5 251.8,531.1 252.9,528.7 254.0,522.5 255.1,517.0 256.2,510.9 257.3,503.6 258.4,497.5 259.5,491.7 260.6,485.4 261.7,479.7 262.8,473.4 263.9,467.9 265.0,460.6 266.1,452.7 267.2,444.4 268.3,436.8 269.4,429.4 270.5,422.3 271.6,416.4 272.7,409.6 273.8,402.8 274.9,396.1 276.0,389.8 277.1,380.5 278.2,373.0 279.3,375.9 280.4,380.7 281.5,378.8 282.6,366.0 283.7,353.6 284.8,343.9 285.9,337.3 287.0,329.6 288.1,322.3 289.2,320.6 290.3,312.7 291.4,297.5 292.5,291.3 293.6,291.3 294.7,286.4 295.8,284.3 296.9,278.1 298.0,275.2 299.1,266.2 300.2,262.4 301.3,261.8 302.4,259.6 303.5,256.0 304.6,255.3 305.7,255.9 306.8,249.0 307.9,252.5 309.0,244.7 310.1,242.4 311.2,239.4 312.3,241.4 313.4,240.2 314.5,237.1 315.6,236.9 316.7,234.0 317.8,230.1 318.9,228.8 320.0,225.0 321.1,226.9 322.2,223.7 323.3,219.0 324.4,214.3 325.5,219.9 326.6,224.1 327.7,220.8 328.8,216.6 329.9,214.2 331.0,213.9 332.1,216.8 333.2,210.8 334.3,204.7 335.4,209.9 336.5,206.2 337.6,205.8 338.7,206.2 339.8,206.1 340.9,205.3 342.0,206.1 343.1,204.6 344.2,206.5 345.3,201.2 346.4,202.2 347.5,200.8 348.6,198.8 349.7,200.4 350.8,195.7 351.9,198.0 353.0,204.9 354.1,197.8 355.2,200.8 356.3,202.2 357.4,200.0 358.5,201.7 359.6,199.7 360.7,190.4 361.8,194.0 362.9,199.7 364.0,196.3 365.1,199.3 366.2,198.8 367.3,194.9 368.4,204.1 369.5,199.8 370.6,200.1 371.7,201.0 372.8,200.9 373.9,205.1 375.0,202.5 376.1,203.6 377.2,207.4 378.3,206.3 379.4,207.5 380.5,205.3 381.6,204.1 382.7,205.9 383.8,204.5 384.9,205.9 386.0,205.6 387.1,206.6 388.2,206.1 389.3,206.2 390.4,204.4 391.5,206.4 392.6,213.2 393.7,210.7 394.8,207.9 395.9,209.9 397.0,204.9 398.1,206.7 399.2,209.4 400.3,208.8 401.4,204.3 402.5,211.6 403.6,215.5 404.7,213.8 405.8,212.5 406.9,210.6 408.0,214.7 409.1,213.7 410.2,216.6 411.3,227.6 412.4,222.9 413.5,221.3 414.6,220.7 415.7,217.7 416.8,219.6 417.9,217.9 419.0,222.9 420.1,221.4 421.2,226.2 422.3,222.1 423.4,227.1 424.5,226.7 425.6,231.3 426.7,231.8 427.8,236.2 428.9,233.7 430.0,234.3 431.1,235.6 432.2,239.0 433.3,240.0 434.4,241.3 435.5,242.2 436.6,240.9 437.7,230.9 438.8,241.3 439.9,242.2 441.0,242.6 442.1,247.4 443.2,248.5 444.3,250.8 445.4,250.3 446.5,252.9 447.6,255.9 448.7,257.0 449.8,260.5 450.9,255.8 452.0,260.2 453.1,257.7 454.2,262.9 455.3,270.5 456.4,257.6 457.5,262.1 458.6,266.9 459.7,264.0 460.8,267.0 461.9,270.2 463.0,270.7 464.1,270.1 465.2,271.3 466.3,270.3 467.4,271.7 468.5,273.0 469.6,273.8 470.7,267.5 471.8,275.2 472.9,273.3 474.0,281.5 475.1,282.7 476.2,276.9 477.3,278.9 478.4,280.6 479.5,282.7 480.6,284.2 481.7,286.6 482.8,284.9 483.9,285.8 485.0,282.5 486.1,289.3 487.2,289.7 488.3,289.8 489.4,288.6 490.5,285.4 491.6,290.2 492.7,291.3 493.8,293.2 494.9,293.7 496.0,290.2 497.1,297.2 498.2,295.6 499.3,293.5 500.4,300.8 501.5,301.8 502.6,299.8 503.7,304.0 504.8,308.4 505.9,307.4 507.0,305.0 508.1,305.7 509.2,307.7 510.3,307.6 511.4,307.8 512.5,307.3 513.6,310.7 514.7,313.9 515.8,311.7 516.9,312.8 518.0,313.3 519.1,318.5 520.2,319.6 521.3,316.7 522.4,320.5 523.5,320.9 524.6,321.5 525.7,320.6 526.8,319.1 527.9,324.6 529.0,327.3 530.1,326.3 531.2,331.2 532.3,327.4 533.4,326.6 534.5,329.1 535.6,335.6 536.7,335.1 537.8,335.3 538.9,332.9 540.0,337.7 541.1,335.2 542.2,337.5 543.3,337.6 544.4,337.4 545.5,342.3 546.6,339.6 547.7,343.0 548.8,341.8 549.9,343.3 551.0,344.3 552.1,345.1 553.2,344.3 554.3,348.0 555.4,349.6 556.5,347.7 557.6,349.5 558.7,351.0 559.8,351.9 560.9,354.4 562.0,351.4 563.1,351.0 564.2,354.4 565.3,359.8 566.4,357.0 567.5,357.6 568.6,355.8 569.7,358.5 570.8,358.0 571.9,360.5 573.0,360.1 574.1,360.4 575.2,362.7 576.3,361.4 577.4,362.4 578.5,364.6 579.6,364.0 580.7,364.0 581.8,365.3 582.9,367.9 584.0,366.8 585.1,369.7 586.2,373.4 587.3,370.4 588.4,372.3 589.5,376.9 590.6,377.7 591.7,381.9 592.8,379.0 593.9,378.1 595.0,380.3 596.1,377.8 597.2,380.4 598.3,382.4 599.4,378.8 600.5,381.9 601.6,384.8 602.7,379.0 603.8,382.6 604.9,389.4 606.0,387.2 607.1,389.7 608.2,387.6 609.3,387.5 610.4,391.4 611.5,392.2 612.6,391.1 613.7,398.4 614.8,397.0 615.9,390.3 617.0,395.3 618.1,396.5 619.2,397.7 620.3,396.5 621.4,399.4 622.5,399.3 623.6,399.5 624.7,397.5 625.8,398.6 626.9,399.6 628.0,398.8 629.1,399.5 630.2,399.4 631.3,402.2 632.4,399.2 633.5,400.8 634.6,403.5 635.7,406.7 636.8,405.9 637.9,407.6 639.0,410.3 640.1,406.7 641.2,407.0 642.3,413.7 643.4,414.3 644.5,413.5 645.6,416.1 646.7,412.7 647.8,414.4 648.9,413.9 650.0,414.3 651.1,416.6 652.2,415.7 653.3,416.7 654.4,418.4 655.5,418.5 656.6,417.7 657.7,419.9 658.8,419.0 659.9,420.5 661.0,419.4 662.1,425.3 663.2,424.6 664.3,421.2 665.4,427.7 666.5,428.1 667.6,431.5 668.7,429.3 669.8,427.8 670.9,428.5 672.0,429.8 673.1,426.8 674.2,429.6 675.3,429.0 676.4,431.5 677.5,431.3 678.6,431.1 679.7,433.6 680.8,430.8 681.9,431.4 683.0,433.0 684.1,432.5 685.2,433.5 686.3,435.5 687.4,435.0 688.5,435.8 689.6,434.0 690.7,436.2 691.8,437.9 692.9,438.0 694.0,437.3 695.1,435.9 696.2,435.6 697.3,442.5 698.4,439.6 699.5,441.6 700.6,444.1 701.7,441.8 702.8,442.2 703.9,442.3 705.0,440.9 706.1,439.5 707.2,440.8 708.3,442.8 709.4,439.9 710.5,439.4 711.6,446.7 712.7,444.9 713.8,444.7 714.9,446.4 716.0,449.9 717.1,447.4 718.2,447.5 719.3,449.9 720.4,449.9 721.5,448.4 722.6,450.1 723.7,451.9 724.8,452.6 725.9,455.2 727.0,452.4 728.1,451.0 729.2,454.8 730.3,453.6 731.4,456.7 732.5,456.0 733.6,456.3 734.7,456.3 735.8,459.1 736.9,459.0 738.0,456.7 739.1,456.9 740.2,460.4 741.3,457.4 742.4,460.0 743.5,458.2 744.6,463.0 745.7,464.0 746.8,462.5 747.9,465.3 749.0,463.7 750.1,466.4 751.2,462.1 752.3,466.1 753.4,462.1 754.5,464.5 755.6,465.5 756.7,464.2 757.8,466.4 758.9,464.6 760.0,465.9 761.1,466.8 762.2,466.3 763.3,469.4 764.4,468.3 765.5,468.8 766.6,469.4 767.7,466.1 768.8,467.3 769.9,470.3 771.0,469.3 772.1,468.9 773.2,472.8 774.3,469.5 775.4,470.7 776.5,471.0 777.6,474.1 778.7,474.2 779.8,476.8 780.9,471.8 782.0,476.1 783.1,473.3 784.2,476.9 785.3,472.9 786.4,473.7 787.5,476.6 788.6,476.4 789.7,471.9 790.8,476.6 791.9,476.0 793.0,478.0 794.1,478.2 795.2,477.1 796.3,476.8 797.4,478.5 798.5,477.8 799.6,477.7 800.7,481.6 801.8,481.4 802.9,480.3 804.0,477.8 805.1,481.8 806.2,481.7 807.3,484.7 808.4,486.6 809.5,482.5 810.6,482.1 811.7,482.4 812.8,482.2 813.9,481.9 815.0,479.4 816.1,483.5 817.2,483.3 818.3,483.0 819.4,484.7 820.5,484.3 821.6,483.0 822.7,485.0 823.8,487.3 824.9,487.7 826.0,485.7 827.1,485.3 828.2,485.6 829.3,489.2 830.4,489.2 831.5,487.9 832.6,487.3 833.7,488.2 834.8,489.1 835.9,488.0 837.0,488.5 838.1,489.0 839.2,489.7 840.3,494.5 841.4,490.8 842.5,488.5 843.6,495.0 844.7,491.7 845.8,492.4 846.9,492.1 848.0,491.1 849.1,491.7 850.2,492.1 851.3,492.3 852.4,492.7 853.5,495.5 854.6,495.7 855.7,496.8 856.8,497.6 857.9,494.8 859.0,497.1 860.1,496.4 861.2,494.8 862.3,495.4 863.4,496.3 864.5,493.9 865.6,497.1 866.7,496.9 867.8,498.2 868.9,499.3 870.0,498.3 871.1,498.6 872.2,498.3 873.3,498.7 874.4,497.6 875.5,499.1 876.6,497.1 877.7,499.0 878.8,498.9 879.9,500.7 881.0,497.3 882.1,500.2 883.2,500.8 884.3,503.2 885.4,500.0 886.5,501.5 887.6,502.6 888.7,503.0 889.8,504.5 890.9,503.9 892.0,500.2 893.1,502.3 894.2,504.1 895.3,504.6 896.4,502.5 897.5,503.9 898.6,506.3 899.7,505.3 900.8,502.7 901.9,505.1 903.0,505.3 904.1,505.2 905.2,505.7 906.3,504.7 907.4,506.3 908.5,505.3 909.6,505.7 910.7,504.8 911.8,506.6 912.9,508.0 914.0,505.1 915.1,504.5 916.2,505.7 917.3,509.6 918.4,509.1 919.5,507.5 920.6,508.8 921.7,506.6 922.8,508.2 923.9,509.5 925.0,508.9 926.1,509.6 927.2,510.3 928.3,511.9 929.4,512.2 930.5,510.1 931.6,510.7 932.7,510.0 933.8,508.2 934.9,510.1 936.0,511.3 937.1,510.2 938.2,510.5 939.3,509.1 940.4,511.5 941.5,513.3 942.6,513.8 943.7,512.9 944.8,511.4 945.9,512.5 947.0,514.3 948.1,513.6 949.2,513.5 950.3,514.9 951.4,514.1 952.5,514.7 953.6,515.0 954.7,514.2 955.8,514.0 956.9,516.0 958.0,516.6 959.1,517.3 960.2,513.1 961.3,517.0 962.4,516.1 963.5,516.0 964.6,516.3 965.7,514.7 966.8,516.2 967.9,516.9 969.0,517.9 970.1,516.5 971.2,517.1 972.3,515.6" fill="none" stroke="#7e2f8e" stroke-width="2.5" stroke-linejoin="round"/>
<rect x="265.4" y="269" width="41" height="231" fill="none" stroke="#000" stroke-width="1.2"/>
<path d="M249,71 H243 V590.5 H973" fill="none" stroke="#454545" stroke-width="1.6"/>
<line x1="243.0" y1="590.5" x2="243.0" y2="586" stroke="#454545" stroke-width="1.3"/>
<line x1="324.1" y1="590.5" x2="324.1" y2="586" stroke="#454545" stroke-width="1.3"/>
<line x1="405.2" y1="590.5" x2="405.2" y2="586" stroke="#454545" stroke-width="1.3"/>
<line x1="486.3" y1="590.5" x2="486.3" y2="586" stroke="#454545" stroke-width="1.3"/>
<line x1="567.4" y1="590.5" x2="567.4" y2="586" stroke="#454545" stroke-width="1.3"/>
<line x1="648.5" y1="590.5" x2="648.5" y2="586" stroke="#454545" stroke-width="1.3"/>
<line x1="729.6" y1="590.5" x2="729.6" y2="586" stroke="#454545" stroke-width="1.3"/>
<line x1="810.7" y1="590.5" x2="810.7" y2="586" stroke="#454545" stroke-width="1.3"/>
<line x1="891.8" y1="590.5" x2="891.8" y2="586" stroke="#454545" stroke-width="1.3"/>
<line x1="972.9" y1="590.5" x2="972.9" y2="586" stroke="#454545" stroke-width="1.3"/>
<line x1="243" y1="331" x2="248" y2="331" stroke="#454545" stroke-width="1.3"/>
<text x="230.0" y="623.3" font-family="Liberation Sans, sans-serif" font-size="30.8" text-anchor="middle">30</text>
<text x="311.1" y="623.3" font-family="Liberation Sans, sans-serif" font-size="30.8" text-anchor="middle">40</text>
<text x="392.2" y="623.3" font-family="Liberation Sans, sans-serif" font-size="30.8" text-anchor="middle">50</text>
<text x="473.3" y="623.3" font-family="Liberation Sans, sans-serif" font-size="30.8" text-anchor="middle">60</text>
<text x="554.4" y="623.3" font-family="Liberation Sans, sans-serif" font-size="30.8" text-anchor="middle">70</text>
<text x="635.5" y="623.3" font-family="Liberation Sans, sans-serif" font-size="30.8" text-anchor="middle">80</text>
<text x="716.6" y="623.3" font-family="Liberation Sans, sans-serif" font-size="30.8" text-anchor="middle">90</text>
<text x="797.7" y="623.3" font-family="Liberation Sans, sans-serif" font-size="30.8" text-anchor="middle">100</text>
<text x="878.8" y="623.3" font-family="Liberation Sans, sans-serif" font-size="30.8" text-anchor="middle">110</text>
<text x="959.9" y="623.3" font-family="Liberation Sans, sans-serif" font-size="30.8" text-anchor="middle">120</text>
<text x="216" y="74" font-family="Liberation Sans, sans-serif" font-size="31" text-anchor="end">35&#8217;000</text>
<text x="216" y="335" font-family="Liberation Sans, sans-serif" font-size="31" text-anchor="end">17&#8217;500</text>
<text x="215.5" y="597" font-family="Liberation Sans, sans-serif" font-size="31" text-anchor="end">0</text>
<text x="599.4" y="659" font-family="Liberation Sans, sans-serif" font-size="36" text-anchor="middle">Time (mins)</text>
<text transform="translate(87.8,321.7) rotate(-90)" font-family="Liberation Sans, sans-serif" font-size="35.7" text-anchor="middle">Relative Light Units</text>
<text x="251.5" y="137" font-family="Liberation Sans, sans-serif" font-size="30.5" fill="#a6a6a6">1g</text>
<text x="329" y="479" font-family="Liberation Sans, sans-serif" font-size="30.5" fill="#a6a6a6">0g</text>
<text transform="translate(299.3,543.6) scale(0.885,1)" font-family="Liberation Sans, sans-serif" font-size="48" font-weight="bold">b</text>
<text transform="translate(8.5,48.5) scale(0.93,1)" font-family="Liberation Sans, sans-serif" font-size="63.5" font-weight="bold">A</text>
<rect x="786" y="65.0" width="194.4" height="165.5" fill="#fff" stroke="#555" stroke-width="1.4"/>
<line x1="823.5" y1="90.2" x2="861" y2="90.2" stroke="#0fa5ef" stroke-width="4.6"/>
<text x="880" y="101.7" font-family="Liberation Sans, sans-serif" font-size="31">PMT 1</text>
<line x1="823.5" y1="129.8" x2="861" y2="129.8" stroke="#d05a0e" stroke-width="4.6"/>
<text x="880" y="141.3" font-family="Liberation Sans, sans-serif" font-size="31">PMT 2</text>
<line x1="823.5" y1="169.5" x2="861" y2="169.5" stroke="#ffd54f" stroke-width="4.6"/>
<text x="880" y="181.0" font-family="Liberation Sans, sans-serif" font-size="31">PMT 3</text>
<line x1="823.5" y1="209.1" x2="861" y2="209.1" stroke="#7030a0" stroke-width="4.6"/>
<text x="880" y="220.6" font-family="Liberation Sans, sans-serif" font-size="31">PMT 4</text>
<line x1="525.8" y1="756" x2="525.8" y2="1144.5" stroke="#333" stroke-width="1.3" stroke-dasharray="1.5,1.5"/>
<line x1="525.8" y1="1327" x2="525.8" y2="1718.3" stroke="#333" stroke-width="1.3" stroke-dasharray="1.5,1.5"/>
<line x1="594.8" y1="756" x2="594.8" y2="1144.5" stroke="#333" stroke-width="1.3" stroke-dasharray="1.5,1.5"/>
<line x1="594.8" y1="1327" x2="594.8" y2="1718.3" stroke="#333" stroke-width="1.3" stroke-dasharray="1.5,1.5"/>
<polyline points="393.0,1145.0 398.4,1140.6 411.0,1131.6 423.6,1128.0 436.2,1116.5 448.8,1106.4 461.4,1107.5 474.0,1093.8 486.6,1083.0 499.2,1081.2 511.8,1066.8 524.4,1056.0 537.0,1052.4 549.6,1047.0 561.3,1041.6 573.8,1058.5 586.8,1065.0 600.1,1072.0 606.3,1055.9 616.7,1041.6 623.2,1020.8 631.0,1011.7 646.6,997.4 662.2,983.1 675.2,979.2 688.2,962.3 701.2,954.5 707.6,942.8 716.0,936.8 726.8,930.2 737.6,929.6 747.2,920.0 761.6,903.2 774.8,891.2 786.0,888.0" fill="none" stroke="#0072bd" stroke-width="4" stroke-linejoin="round"/>
<polyline points="322.8,1144.5 326.4,1138.8 339.0,1132.3 351.6,1123.7 364.2,1120.8 376.8,1105.6 389.4,1102.8 402.0,1092.0 414.6,1086.6 427.2,1071.1 439.8,1068.6 452.4,1053.1 465.0,1050.6 477.6,1042.3 490.2,1034.4 502.8,1029.0 515.4,1012.8 528.0,996.6 540.6,1000.2 553.2,984.0 565.8,967.8 578.4,965.3 591.0,969.6 604.6,953.9 607.6,966.2 615.4,1024.0 621.0,1028.6 630.6,1030.0 638.8,1023.4 649.2,1010.4 662.2,987.0 675.2,975.3 688.2,962.3 705.3,954.2 712.4,944.0 716.0,932.6 730.4,923.6 740.0,920.0 752.0,911.6 764.0,904.4 768.8,902.6 776.0,894.8 786.0,888.5" fill="none" stroke="#d95319" stroke-width="4" stroke-linejoin="round"/>
<polyline points="251.0,1144.5 254.4,1142.4 263.4,1133.4 276.0,1133.4 290.4,1122.6 303.0,1117.9 315.6,1108.2 328.2,1102.8 340.8,1089.1 353.4,1084.0 366.0,1069.7 378.6,1065.0 391.2,1048.0 403.8,1044.5 416.4,1038.0 429.0,1022.9 441.6,1014.6 454.2,1008.5 466.8,1002.7 479.4,998.4 492.0,986.9 504.6,978.6 517.2,960.6 529.8,949.8 542.4,937.9 553.0,940.2 560.8,927.2 568.6,916.8 579.0,906.4 592.0,903.3 605.0,903.3 617.0,895.3 623.2,906.4 627.1,919.4 629.3,928.0 644.0,925.9 657.0,916.8 670.0,912.9 680.4,906.4 688.2,895.5 695.6,887.6 706.4,873.2 716.0,860.0 719.4,853.1 732.4,844.0 745.4,832.3 755.8,824.5 768.8,807.6 786.0,794.0" fill="none" stroke="#7e2f8e" stroke-width="4" stroke-linejoin="round"/>
<polyline points="247.2,1133.4 259.8,1127.3 272.4,1108.2 283.0,1097.0 294.0,1086.6 310.2,1065.0 322.8,1059.6 335.4,1039.8 348.0,1037.3 360.6,1038.0 373.2,1016.4 385.8,1003.8 398.4,997.7 411.0,980.4 423.6,964.2 436.2,960.6 448.8,942.6 461.4,926.4 474.0,930.0 486.6,908.4 499.2,894.0 511.8,882.5 524.4,878.9 537.0,872.4 549.6,858.0 562.2,846.5 575.9,826.6 581.6,838.8 588.1,851.8 594.6,862.2 600.3,868.7 607.6,864.3 614.1,860.9 618.0,880.4 621.9,893.4 625.8,905.1 631.0,900.0 638.8,893.4 646.6,886.9 654.4,877.8 662.2,855.7 670.0,851.8 676.5,849.2 685.6,838.8 693.4,832.3 702.5,825.8 711.6,815.4 719.4,810.2 727.2,807.6 733.7,792.0 740.2,776.4 750.6,771.2 758.4,756.9" fill="none" stroke="#edb120" stroke-width="4" stroke-linejoin="round"/>
<circle cx="575.9" cy="826.6" r="8.8" fill="#ffc000" stroke="#222" stroke-width="1"/>
<rect x="695.4" y="818.6" width="14.3" height="14.3" fill="#ffc000" stroke="#222" stroke-width="1"/>
<circle cx="617.0" cy="895.3" r="8.8" fill="#7030a0" stroke="#222" stroke-width="1"/>
<path d="M626.0,896.4 L634.4,913.4 L617.6,913.4 Z" fill="#ffc000" stroke="#222" stroke-width="1"/>
<path d="M629.3,917.7 L637.7,934.7 L620.9,934.7 Z" fill="#7030a0" stroke="#222" stroke-width="1"/>
<rect x="681.1" y="888.5" width="14.3" height="14.3" fill="#7030a0" stroke="#222" stroke-width="1"/>
<circle cx="604.6" cy="953.9" r="8.8" fill="#f06c10" stroke="#222" stroke-width="1"/>
<rect x="698.1" y="947.1" width="14.3" height="14.3" fill="#f06c10" stroke="#222" stroke-width="1"/>
<path d="M630.6,1019.1 L639.0,1036.1 L622.2,1036.1 Z" fill="#f06c10" stroke="#222" stroke-width="1"/>
<circle cx="561.3" cy="1041.6" r="8.8" fill="#5590dc" stroke="#222" stroke-width="1"/>
<rect x="609.6" y="1034.3" width="14.3" height="14.3" fill="#5590dc" stroke="#222" stroke-width="1"/>
<path d="M600.1,1062.0 L608.5,1079.0 L591.7,1079.0 Z" fill="#5590dc" stroke="#222" stroke-width="1"/>
<path d="M254,757 H247 V1144.5 H933.8" fill="none" stroke="#454545" stroke-width="1.6"/>
<line x1="246.8" y1="1144.5" x2="246.8" y2="1140.5" stroke="#454545" stroke-width="1.3"/>
<line x1="384.2" y1="1144.5" x2="384.2" y2="1140.5" stroke="#454545" stroke-width="1.3"/>
<line x1="521.6" y1="1144.5" x2="521.6" y2="1140.5" stroke="#454545" stroke-width="1.3"/>
<line x1="659.0" y1="1144.5" x2="659.0" y2="1140.5" stroke="#454545" stroke-width="1.3"/>
<line x1="796.4" y1="1144.5" x2="796.4" y2="1140.5" stroke="#454545" stroke-width="1.3"/>
<line x1="933.8" y1="1144.5" x2="933.8" y2="1140.5" stroke="#454545" stroke-width="1.3"/>
<line x1="247" y1="950.5" x2="252" y2="950.5" stroke="#454545" stroke-width="1.3"/>
<text x="233.2" y="1174" font-family="Liberation Sans, sans-serif" font-size="30.2" text-anchor="middle">32</text>
<text x="371.4" y="1174" font-family="Liberation Sans, sans-serif" font-size="30.2" text-anchor="middle">33</text>
<text x="507.8" y="1174" font-family="Liberation Sans, sans-serif" font-size="30.2" text-anchor="middle">34</text>
<text x="644.6" y="1174" font-family="Liberation Sans, sans-serif" font-size="30.2" text-anchor="middle">35</text>
<text x="783.0" y="1174" font-family="Liberation Sans, sans-serif" font-size="30.2" text-anchor="middle">36</text>
<text x="921.5" y="1174" font-family="Liberation Sans, sans-serif" font-size="30.2" text-anchor="middle">37</text>
<text x="217" y="762.5" font-family="Liberation Sans, sans-serif" font-size="31.5" text-anchor="end">20&#8217;000</text>
<text x="217" y="954.5" font-family="Liberation Sans, sans-serif" font-size="31.5" text-anchor="end">13&#8217;000</text>
<text x="217" y="1144.5" font-family="Liberation Sans, sans-serif" font-size="31.5" text-anchor="end">6&#8217;000</text>
<text x="604.8" y="1210" font-family="Liberation Sans, sans-serif" font-size="36" text-anchor="middle">Time (mins)</text>
<text transform="translate(87.8,935) rotate(-90)" font-family="Liberation Sans, sans-serif" font-size="35.7" text-anchor="middle">Relative Light Units</text>
<text transform="translate(509.9,739.5) scale(0.85,1)" font-family="Liberation Sans, sans-serif" font-size="37.5" fill="#a6a6a6" text-anchor="middle">T1</text>
<text transform="translate(580.8,739.5) scale(0.94,1)" font-family="Liberation Sans, sans-serif" font-size="37.5" fill="#a6a6a6" text-anchor="middle">T2</text>
<text x="653.6" y="790" font-family="Liberation Sans, sans-serif" font-size="29.5" text-anchor="middle">42&#177;15 s</text>
<line x1="580" y1="801.8" x2="692" y2="801.8" stroke="#000" stroke-width="2.6"/>
<path d="M572.3,801.8 L583,795 L583,808.6 Z" fill="#000"/>
<path d="M699.4,801.8 L688.7,795 L688.7,808.6 Z" fill="#000"/>
<line x1="757.5" y1="988" x2="757.5" y2="1043" stroke="#000" stroke-width="2.6"/>
<path d="M757.5,981.6 L750.3,990 L764.7,990 Z" fill="#000"/>
<path d="M757.5,1049.1 L750.3,1040.7 L764.7,1040.7 Z" fill="#000"/>
<text x="771.5" y="1029.7" font-family="Liberation Sans, sans-serif" font-size="30.6">2095&#177;987 RLU</text>
<text transform="translate(7.5,713.4) scale(0.83,1)" font-family="Liberation Sans, sans-serif" font-size="63" font-weight="bold">B</text>
<rect x="786" y="721.4" width="194.4" height="165.5" fill="#fff" stroke="#555" stroke-width="1.4"/>
<line x1="823.5" y1="746.6" x2="861" y2="746.6" stroke="#0fa5ef" stroke-width="4.6"/>
<text x="880" y="758.1" font-family="Liberation Sans, sans-serif" font-size="31">PMT 1</text>
<line x1="823.5" y1="786.2" x2="861" y2="786.2" stroke="#d05a0e" stroke-width="4.6"/>
<text x="880" y="797.8" font-family="Liberation Sans, sans-serif" font-size="31">PMT 2</text>
<line x1="823.5" y1="825.9" x2="861" y2="825.9" stroke="#ffd54f" stroke-width="4.6"/>
<text x="880" y="837.4" font-family="Liberation Sans, sans-serif" font-size="31">PMT 3</text>
<line x1="823.5" y1="865.5" x2="861" y2="865.5" stroke="#7030a0" stroke-width="4.6"/>
<text x="880" y="877.0" font-family="Liberation Sans, sans-serif" font-size="31">PMT 4</text>
<polygon points="246.5,1396.4 258.0,1386.7 271.3,1395.3 283.9,1391.0 296.5,1405.4 309.1,1371.9 321.7,1385.6 334.3,1406.5 346.9,1395.7 359.5,1376.6 372.1,1402.9 384.7,1401.8 397.3,1380.9 409.9,1395.7 422.5,1401.8 435.1,1376.6 447.7,1416.2 460.3,1410.8 472.9,1366.9 485.5,1387.4 498.1,1386.7 510.7,1374.8 523.3,1404.3 535.9,1392.1 548.5,1357.9 561.1,1402.0 573.4,1444.7 586.6,1426.6 598.1,1442.9 612.2,1376.1 623.9,1365.5 636.5,1363.3 649.1,1357.9 661.7,1380.2 674.3,1376.6 686.9,1373.0 699.5,1383.8 712.1,1362.2 724.7,1374.1 737.3,1374.8 749.9,1381.3 762.5,1391.0 775.1,1392.1 787.7,1394.6 800.3,1398.2 812.9,1409.0 825.5,1437.8 838.1,1376.6 850.7,1355.0 863.3,1415.1 875.9,1403.6 888.5,1430.6 901.1,1407.2 913.7,1405.4 926.3,1389.9 932.8,1396.4 932.8,1465.5 926.3,1470.2 913.7,1456.9 901.1,1463.0 888.5,1452.2 875.9,1465.5 863.3,1448.6 850.7,1448.6 838.1,1445.0 825.5,1467.7 812.9,1434.2 800.3,1419.8 787.7,1436.0 775.1,1421.6 762.5,1453.3 749.9,1416.2 737.3,1423.4 724.7,1436.0 712.1,1406.5 699.5,1405.4 686.9,1412.6 674.3,1407.2 661.7,1418.0 649.1,1424.5 636.5,1424.5 623.9,1441.0 611.3,1655.9 598.1,1566.0 586.6,1488.0 573.4,1561.1 561.1,1475.6 548.5,1412.6 535.9,1428.8 523.3,1435.3 510.7,1422.3 498.1,1424.5 485.5,1424.5 472.9,1417.3 460.3,1431.7 447.7,1438.9 435.1,1424.5 422.5,1422.3 409.9,1419.8 397.3,1417.3 384.7,1434.2 372.1,1423.4 359.5,1414.4 346.9,1424.5 334.3,1443.9 321.7,1422.3 309.1,1425.9 296.5,1423.4 283.9,1428.8 271.3,1434.2 258.0,1437.8 246.5,1428.8" fill="#ffc4c4" stroke="#f0a8a8" stroke-width="0.8"/>
<line x1="246.8" y1="1457.4" x2="932.8" y2="1457.4" stroke="#000" stroke-width="1.4"/>
<polyline points="246.5,1411.9 258.0,1412.6 271.3,1415.1 283.9,1410.1 296.5,1413.7 309.1,1398.9 321.7,1404.3 334.3,1424.5 346.9,1409.0 359.5,1395.7 372.1,1411.5 384.7,1417.3 397.3,1399.3 409.9,1407.2 422.5,1411.9 435.1,1401.8 447.7,1425.9 460.3,1420.9 472.9,1393.9 485.5,1407.2 498.1,1404.3 510.7,1399.3 523.3,1420.9 535.9,1412.6 548.3,1384.5 561.1,1454.0 573.4,1502.5 586.6,1458.2 598.1,1522.3 613.1,1516.0 623.9,1403.5 636.5,1392.1 649.1,1392.1 661.7,1398.2 674.3,1392.8 686.9,1393.5 699.5,1394.6 712.1,1384.9 724.7,1404.7 737.3,1399.3 749.9,1397.5 762.5,1420.9 775.1,1407.2 787.7,1415.1 800.3,1409.4 812.9,1420.9 825.5,1449.7 838.1,1410.8 850.7,1402.9 863.3,1431.7 875.9,1434.2 888.5,1442.1 901.1,1435.3 913.7,1431.0 926.3,1429.9 932.8,1432.4" fill="none" stroke="#f00" stroke-width="4.5" stroke-linejoin="round"/>
<path d="M254,1327 H246.8 V1718.3 H933.8" fill="none" stroke="#454545" stroke-width="1.6"/>
<line x1="246.8" y1="1718.3" x2="246.8" y2="1714.3" stroke="#454545" stroke-width="1.3"/>
<line x1="384.2" y1="1718.3" x2="384.2" y2="1714.3" stroke="#454545" stroke-width="1.3"/>
<line x1="521.6" y1="1718.3" x2="521.6" y2="1714.3" stroke="#454545" stroke-width="1.3"/>
<line x1="659.0" y1="1718.3" x2="659.0" y2="1714.3" stroke="#454545" stroke-width="1.3"/>
<line x1="796.4" y1="1718.3" x2="796.4" y2="1714.3" stroke="#454545" stroke-width="1.3"/>
<line x1="933.8" y1="1718.3" x2="933.8" y2="1714.3" stroke="#454545" stroke-width="1.3"/>
<line x1="246.8" y1="1457.4" x2="251.8" y2="1457.4" stroke="#454545" stroke-width="1.3"/>
<line x1="246.8" y1="1587.9" x2="251.8" y2="1587.9" stroke="#454545" stroke-width="1.3"/>
<text x="233.2" y="1748.8" font-family="Liberation Sans, sans-serif" font-size="30.2" text-anchor="middle">32</text>
<text x="371.4" y="1748.8" font-family="Liberation Sans, sans-serif" font-size="30.2" text-anchor="middle">33</text>
<text x="507.6" y="1748.8" font-family="Liberation Sans, sans-serif" font-size="30.2" text-anchor="middle">34</text>
<text x="644.6" y="1748.8" font-family="Liberation Sans, sans-serif" font-size="30.2" text-anchor="middle">35</text>
<text x="783.0" y="1748.8" font-family="Liberation Sans, sans-serif" font-size="30.2" text-anchor="middle">36</text>
<text x="921.5" y="1748.8" font-family="Liberation Sans, sans-serif" font-size="30.2" text-anchor="middle">37</text>
<text x="215" y="1333" font-family="Liberation Sans, sans-serif" font-size="31" text-anchor="end">10&#8217;000</text>
<text x="215" y="1462.5" font-family="Liberation Sans, sans-serif" font-size="31" text-anchor="end">0</text>
<text x="215" y="1591" font-family="Liberation Sans, sans-serif" font-size="31" text-anchor="end">-10&#8217;000</text>
<text x="215" y="1720.8" font-family="Liberation Sans, sans-serif" font-size="31" text-anchor="end">-20&#8217;000</text>
<text x="605.4" y="1786" font-family="Liberation Sans, sans-serif" font-size="36" text-anchor="middle">Time (mins)</text>
<text transform="translate(66,1525.5) rotate(-90)" font-family="Liberation Sans, sans-serif" font-size="35.7" text-anchor="middle">1<tspan font-size="21" dy="-11">st</tspan><tspan dy="11"> Derivative</tspan></text>
<text transform="translate(108.5,1522.2) rotate(-90)" font-family="Liberation Sans, sans-serif" font-size="35.3" text-anchor="middle">(Relative Light Unit / s)</text>
<text transform="translate(510.4,1310.3) scale(0.85,1)" font-family="Liberation Sans, sans-serif" font-size="37.5" fill="#a6a6a6" text-anchor="middle">T1</text>
<text transform="translate(580.8,1310.3) scale(0.94,1)" font-family="Liberation Sans, sans-serif" font-size="37.5" fill="#a6a6a6" text-anchor="middle">T2</text>
<text transform="translate(2.9,1304.4) scale(0.81,1)" font-family="Liberation Sans, sans-serif" font-size="62" font-weight="bold">C</text>
<rect x="727.6" y="1531.2" width="266.3" height="111.5" fill="#fff" stroke="#d9d9d9" stroke-width="1.2"/>
<line x1="741" y1="1557" x2="785.8" y2="1557" stroke="#c8201e" stroke-width="1.6"/>
<text x="789" y="1564.8" font-family="Liberation Sans, sans-serif" font-size="35.8">Average</text>
<rect x="741" y="1592.2" width="47.6" height="30.8" fill="#ffcccc"/>
<text x="789.5" y="1613.8" font-family="Liberation Sans, sans-serif" font-size="35.5">+/- stdev</text>
</svg></body></html>
